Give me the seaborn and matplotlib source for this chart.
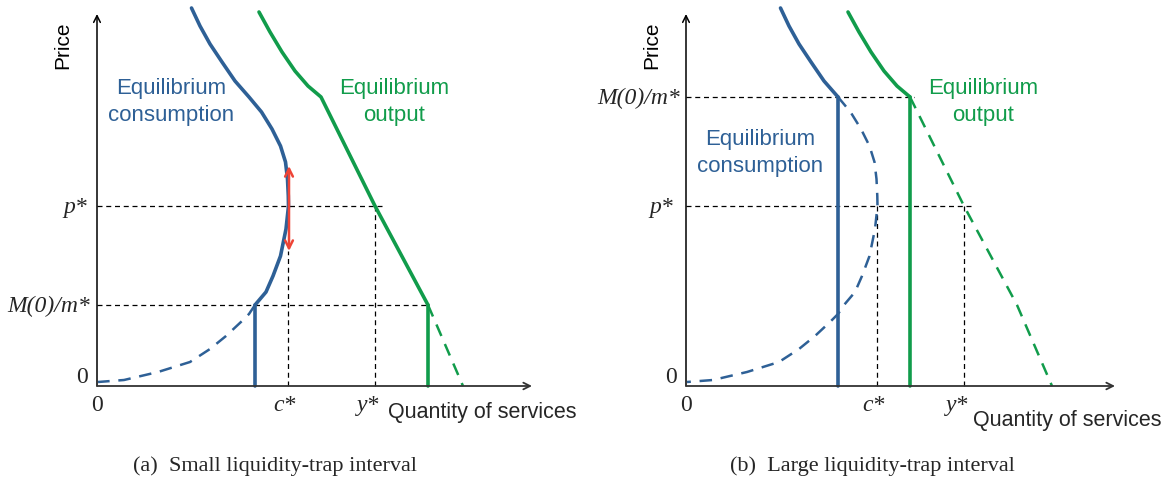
import matplotlib
matplotlib.use("Agg")
import matplotlib.pyplot as plt
import pandas as pd
import seaborn as sns

# ---- data (price / quantity on a common arbitrary scale, origin at 0) ----
consumption_p = [3.78, 3.60, 3.42, 3.24, 3.05, 2.89, 2.74, 2.57, 2.40, 2.24,
                 2.07, 1.90, 1.80, 1.57, 1.30, 1.10, 0.94, 0.81, 0.72, 0.65,
                 0.50, 0.37, 0.24, 0.14, 0.06, 0.04]
consumption_q = [0.945, 1.03, 1.13, 1.25, 1.38, 1.52, 1.645, 1.75, 1.835, 1.885,
                 1.905, 1.913, 1.915, 1.89, 1.835, 1.76, 1.69, 1.58, 1.52, 1.45,
                 1.29, 1.13, 0.93, 0.61, 0.27, 0.01]
output_q = [1.62, 1.73, 1.85, 1.98, 2.11, 2.24, 2.78, 3.31, 3.66]
output_p = [3.74, 3.54, 3.34, 3.15, 3.00, 2.89, 1.80, 0.81, 0.00]

p_star = 1.80
c_star = 1.91
y_star = 2.78
panels = ["a", "b"]
m_level = {"a": 0.81, "b": 2.89}          # M(0)/m*
c_at_m = {"a": 1.58, "b": 1.52}           # consumption at M(0)/m*
y_at_m = {"a": 3.31, "b": 2.24}           # output at M(0)/m*
arrow_q = 1.92
arrow_p = [2.20, 1.35]
captions = {"a": "(a)  Small liquidity-trap interval",
            "b": "(b)  Large liquidity-trap interval"}

BLUE = "#2e6096"
GREEN = "#119c4b"
RED = "#ee4436"

sns.set_theme(style="white")
plt.rcParams["font.family"] = ["Liberation Sans", "DejaVu Sans"]
SERIF = ["Liberation Serif", "DejaVu Serif"]

cons = pd.DataFrame({"q": consumption_q, "p": consumption_p})
outp = pd.DataFrame({"q": output_q, "p": output_p})

W, H = 1172, 485
fig = plt.figure(figsize=(W / 100, H / 100), dpi=100)

origins = {"a": (97, 387), "b": (686, 387)}
axes_px = {"a": (0, 586), "b": (586, 1172)}

for key in panels:
    ox, oy = origins[key]
    x0, x1 = axes_px[key]
    ax = fig.add_axes([x0 / W, (H - 430) / H, (x1 - x0) / W, 430 / H])
    ax.set_xlim((x0 - ox) / 100, (x1 - ox) / 100)
    ax.set_ylim((oy - 430) / 100, oy / 100)
    ax.axis("off")
    m = m_level[key]

    # reference dashed lines
    ref = dict(color="black", lw=0.9, linestyle=(0, (4, 3)))
    ax.plot([0, 2.88], [p_star, p_star], **ref)
    ax.plot([0, y_at_m[key] + (0.04 if key == "b" else 0)], [m, m], **ref)
    c_top = arrow_p[1] if key == "a" else p_star
    ax.plot([c_star, c_star], [0, c_top], **ref)
    ax.plot([y_star, y_star], [0, p_star], **ref)

    # axes arrows
    xend = 4.35 if key == "a" else 4.29
    ax.annotate("", xy=(0, 3.72), xytext=(0, 0),
                arrowprops=dict(arrowstyle="->", color="black", lw=1.1,
                                shrinkA=0, shrinkB=0))
    ax.annotate("", xy=(xend, 0), xytext=(0, 0),
                arrowprops=dict(arrowstyle="->", color="#333333", lw=1.3,
                                shrinkA=0, shrinkB=0))

    # consumption curve
    solid = cons[cons.p >= m]
    dashed = cons[cons.p <= m]
    sns.lineplot(data=solid, x="q", y="p", sort=False, estimator=None,
                 color=BLUE, lw=2.6, ax=ax, solid_joinstyle="round")
    sns.lineplot(data=dashed, x="q", y="p", sort=False, estimator=None,
                 color=BLUE, lw=1.8, linestyle=(0, (5, 3.5)), ax=ax)
    sns.lineplot(x=[c_at_m[key], c_at_m[key]], y=[0, m], color=BLUE, lw=2.6,
                 estimator=None, sort=False, ax=ax)

    # output curve
    osolid = outp[outp.p >= m]
    odashed = outp[outp.p <= m]
    sns.lineplot(data=osolid, x="q", y="p", sort=False, estimator=None,
                 color=GREEN, lw=2.6, ax=ax, solid_joinstyle="round")
    sns.lineplot(data=odashed, x="q", y="p", sort=False, estimator=None,
                 color=GREEN, lw=1.8, linestyle=(0, (5, 3.5)), ax=ax)
    sns.lineplot(x=[y_at_m[key], y_at_m[key]], y=[0, m], color=GREEN, lw=2.6,
                 estimator=None, sort=False, ax=ax)

    if key == "a":
        ax.annotate("", xy=(arrow_q, arrow_p[0]), xytext=(arrow_q, arrow_p[1]),
                    arrowprops=dict(arrowstyle="<->", color=RED, lw=1.8,
                                    mutation_scale=14, shrinkA=0, shrinkB=0))

    # labels
    ax.text(-0.34, 3.42, "Price", rotation=90, ha="center", va="center",
            fontsize=15, color="black")
    if key == "a":
        ax.text(0.74, 2.85, "Equilibrium\nconsumption", ha="center",
                va="center", fontsize=16, color=BLUE, linespacing=1.35)
        ax.text(-0.10, p_star, "p*", ha="right", va="center", fontsize=17,
                family=SERIF, style="italic")
        ax.text(-0.07, m, "M(0)/m*", ha="right", va="center", fontsize=17,
                family=SERIF, style="italic")
        ax.text(3.85, -0.26, "Quantity of services", ha="center",
                va="center", fontsize=15.5)
    else:
        ax.text(0.74, 2.34, "Equilibrium\nconsumption", ha="center",
                va="center", fontsize=16, color=BLUE, linespacing=1.35)
        ax.text(-0.13, p_star, "p*", ha="right", va="center", fontsize=17,
                family=SERIF, style="italic")
        ax.text(-0.06, m, "M(0)/m*", ha="right", va="center", fontsize=17,
                family=SERIF, style="italic")
        ax.text(3.81, -0.34, "Quantity of services", ha="center",
                va="center", fontsize=15.5)
    ax.text(2.97, 2.85, "Equilibrium\noutput", ha="center", va="center",
            fontsize=16, color=GREEN, linespacing=1.35)
    ax.text(-0.09, 0.09, "0", ha="right", va="center", fontsize=17,
            family=SERIF)
    ax.text(0, -0.19, "0", ha="center", va="center", fontsize=17, family=SERIF)
    ax.text(c_star - 0.04, -0.19, "c*", ha="center", va="center", fontsize=17,
            family=SERIF, style="italic")
    ax.text(y_star - 0.07, -0.19, "y*", ha="center", va="center", fontsize=17,
            family=SERIF, style="italic")

fig.text(275 / W, 1 - 466 / H, captions["a"], ha="center", va="center",
         fontsize=16, family=SERIF)
fig.text(872 / W, 1 - 466 / H, captions["b"], ha="center", va="center",
         fontsize=16, family=SERIF)

fig.savefig("out.png", dpi=100, facecolor="white")
